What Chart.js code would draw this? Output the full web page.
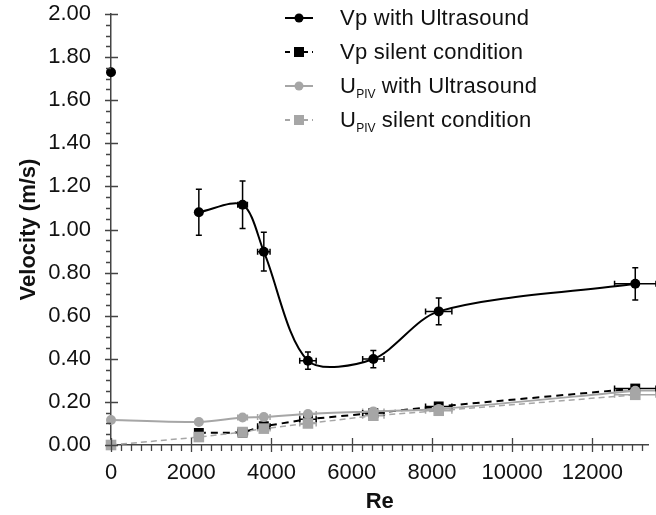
<!DOCTYPE html>
<html>
<head>
<meta charset="utf-8">
<script src="https://cdn.jsdelivr.net/npm/chart.js@4.4.0/dist/chart.umd.min.js"></script>
<style>
  body { margin: 0; background: #fff; }
  #wrap { position: relative; width: 656px; height: 515px; }
  #legend { position: absolute; left: 285px; top: 1px; font-family: "Liberation Sans", Arial, sans-serif; font-size: 22px; letter-spacing: 0.25px; color: #111; }
  .row { height: 34px; display: flex; align-items: center; white-space: nowrap; }
  .row svg { width: 28px; height: 16px; margin-right: 27px; }
  .sub { font-size: 12px; letter-spacing: 0; position: relative; top: 5px; }
</style>
</head>
<body>
<div id="wrap">
  <canvas id="chart" width="656" height="515"></canvas>
  <div id="legend">
    <div class="row">
      <svg viewBox="0 0 28 16"><line x1="0" y1="8" x2="28" y2="8" stroke="#000" stroke-width="2"/><circle cx="14" cy="8" r="4.5" fill="#000"/></svg>
      <span>Vp with Ultrasound</span>
    </div>
    <div class="row">
      <svg viewBox="0 0 28 16"><line x1="0" y1="8" x2="28" y2="8" stroke="#000" stroke-width="2" stroke-dasharray="5,4"/><rect x="9" y="3" width="10" height="10" fill="#000"/></svg>
      <span>Vp silent condition</span>
    </div>
    <div class="row">
      <svg viewBox="0 0 28 16"><line x1="0" y1="8" x2="28" y2="8" stroke="#a6a6a6" stroke-width="2"/><circle cx="14" cy="8" r="4.5" fill="#a6a6a6"/></svg>
      <span>U<span class="sub">PIV</span> with Ultrasound</span>
    </div>
    <div class="row">
      <svg viewBox="0 0 28 16"><line x1="0" y1="8" x2="28" y2="8" stroke="#a6a6a6" stroke-width="2" stroke-dasharray="5,4"/><rect x="9" y="3" width="10" height="10" fill="#a6a6a6"/></svg>
      <span>U<span class="sub">PIV</span> silent condition</span>
    </div>
  </div>
</div>
<script>
// DATA
const re = [0, 2190, 3280, 3810, 4910, 6540, 8170, 13070];
const reErr = [0, 0, 120, 155, 205, 266, 328, 516];
const vpUltrasound = [1.73, 1.08, 1.115, 0.897, 0.391, 0.399, 0.62, 0.748];
const vpUltrasoundErr = [0, 0.107, 0.11, 0.09, 0.04, 0.04, 0.062, 0.075];
const vpSilent = [null, 0.056, 0.058, 0.087, 0.12, 0.148, 0.179, 0.262];
const upivUltrasound = [0.116, 0.107, 0.128, 0.13, 0.144, 0.156, 0.167, 0.252];
const upivSilent = [0, 0.037, 0.06, 0.076, 0.10, 0.136, 0.159, 0.233];
const xTickValues = [0, 2000, 4000, 6000, 8000, 10000, 12000];
const yTickValues = [0, 0.2, 0.4, 0.6, 0.8, 1.0, 1.2, 1.4, 1.6, 1.8, 2.0];

const FONT = '"Liberation Sans", Arial, sans-serif';
const GREY = '#a6a6a6';
const AXIS = '#444';

function points (values, errY) {
    return re.map((x, i) => ({ x: x, y: values[i], ex: reErr[i], ey: errY ? errY[i] : 0 }))
        .filter(p => p.y !== null);
}

// the Re = 0 measurement of Vp is not joined to the fitted curve
const vpPoints = points(vpUltrasound, vpUltrasoundErr);

// error bars, drawn under the markers
const errorBars = {
    id: 'errorBars',
    beforeDatasetsDraw(chart) {
        const ctx = chart.ctx;
        const xs = chart.scales.x;
        const ys = chart.scales.y;
        chart.data.datasets.forEach(ds => {
            ctx.save();
            ctx.strokeStyle = ds.borderColor;
            ctx.lineWidth = 1.5;
            ctx.setLineDash([]);
            ds.data.forEach(p => {
                const px = xs.getPixelForValue(p.x);
                const py = ys.getPixelForValue(p.y);
                ctx.beginPath();
                if (p.ey) {
                    const y1 = ys.getPixelForValue(p.y + p.ey);
                    const y2 = ys.getPixelForValue(p.y - p.ey);
                    ctx.moveTo(px, y1); ctx.lineTo(px, y2);
                    ctx.moveTo(px - 3, y1); ctx.lineTo(px + 3, y1);
                    ctx.moveTo(px - 3, y2); ctx.lineTo(px + 3, y2);
                }
                if (p.ex) {
                    const x1 = xs.getPixelForValue(p.x - p.ex);
                    const x2 = xs.getPixelForValue(p.x + p.ex);
                    ctx.moveTo(x1, py); ctx.lineTo(x2, py);
                    ctx.moveTo(x1, py - 3); ctx.lineTo(x1, py + 3);
                    ctx.moveTo(x2, py - 3); ctx.lineTo(x2, py + 3);
                }
                ctx.stroke();
            });
            ctx.restore();
        });
    }
};

// major + minor tick marks
const tickMarks = {
    id: 'tickMarks',
    afterDraw(chart) {
        const ctx = chart.ctx;
        const xs = chart.scales.x;
        const ys = chart.scales.y;
        const ax = xs.left;
        const ay = ys.bottom;
        ctx.save();
        ctx.strokeStyle = AXIS;
        ctx.lineWidth = 1.3;
        ctx.beginPath();
        for (let v = 0; v <= xs.max; v += 250) {
            const px = Math.round(xs.getPixelForValue(v)) + 0.5;
            if (v % 2000 === 0) {
                ctx.moveTo(px, ay - 7); ctx.lineTo(px, ay + 7);
            } else {
                ctx.moveTo(px, ay); ctx.lineTo(px, ay + 6);
            }
        }
        for (let i = 0; i <= 40; i++) {
            const py = Math.round(ys.getPixelForValue(i * 0.05)) + 0.5;
            if (i % 4 === 0) {
                ctx.moveTo(ax - 6, py); ctx.lineTo(ax + 7, py);
            } else {
                ctx.moveTo(ax - 5, py); ctx.lineTo(ax, py);
            }
        }
        ctx.stroke();
        ctx.restore();
    }
};

const config = {
    type: 'line',
    data: {
        datasets: [
            {
                label: 'UPIV silent condition',
                data: points(upivSilent),
                borderColor: GREY, backgroundColor: GREY,
                borderWidth: 1.5, borderDash: [6, 4],
                pointStyle: 'rect', pointRadius: 7.5, pointBorderWidth: 0,
                tension: 0, clip: false, order: 0
            },
            {
                label: 'UPIV with Ultrasound',
                data: points(upivUltrasound),
                borderColor: GREY, backgroundColor: GREY,
                borderWidth: 2,
                pointStyle: 'circle', pointRadius: 5, pointBorderWidth: 0,
                tension: 0.3, clip: false, order: 1
            },
            {
                label: 'Vp silent condition',
                data: points(vpSilent),
                borderColor: '#000', backgroundColor: '#000',
                borderWidth: 2, borderDash: [7, 5],
                pointStyle: 'rect', pointRadius: 7, pointBorderWidth: 0,
                tension: 0, clip: false, order: 2
            },
            {
                label: 'Vp with Ultrasound',
                data: vpPoints.slice(1),
                borderColor: '#000', backgroundColor: '#000',
                borderWidth: 2,
                pointStyle: 'circle', pointRadius: 5, pointBorderWidth: 0,
                tension: 0.3, clip: false, order: 3
            },
            {
                label: 'Vp with Ultrasound (Re = 0)',
                data: vpPoints.slice(0, 1),
                borderColor: '#000', backgroundColor: '#000',
                showLine: false,
                pointStyle: 'circle', pointRadius: 5, pointBorderWidth: 0,
                clip: false, order: 3
            }
        ]
    },
    options: {
        responsive: false,
        animation: false,
        devicePixelRatio: 1,
        layout: { padding: 0 },
        plugins: {
            legend: { display: false },
            tooltip: { enabled: false }
        },
        scales: {
            x: {
                type: 'linear', min: 0, max: 13400,
                afterBuildTicks: s => { s.ticks = xTickValues.map(v => ({ value: v })); },
                afterFit: s => { s.height = 70; s.paddingLeft = 0; s.paddingRight = 0; },
                grid: { display: false },
                border: { color: AXIS, width: 1.5 },
                ticks: {
                    color: '#111', padding: 7, maxRotation: 0, autoSkip: false,
                    font: { family: FONT, size: 22 },
                    callback: v => String(v)
                },
                title: {
                    display: true, text: 'Re', color: '#111',
                    font: { family: FONT, size: 22, weight: 'bold' },
                    padding: { top: 0, bottom: 0 }
                }
            },
            y: {
                min: 0, max: 2,
                afterBuildTicks: s => { s.ticks = yTickValues.map(v => ({ value: v })); },
                afterFit: s => { s.width = 111; s.paddingTop = 14; s.paddingBottom = 0; },
                grid: { display: false },
                border: { color: AXIS, width: 1.5 },
                ticks: {
                    color: '#111', padding: 12,
                    font: { family: FONT, size: 22 },
                    callback: v => v.toFixed(2)
                },
                title: {
                    display: true, text: 'Velocity (m/s)', color: '#111',
                    font: { family: FONT, size: 22, weight: 'bold' },
                    padding: { top: 16, bottom: 0 }
                }
            }
        }
    },
    plugins: [errorBars, tickMarks]
};

const chart = new Chart(document.getElementById('chart'), config);
</script>
</body>
</html>
